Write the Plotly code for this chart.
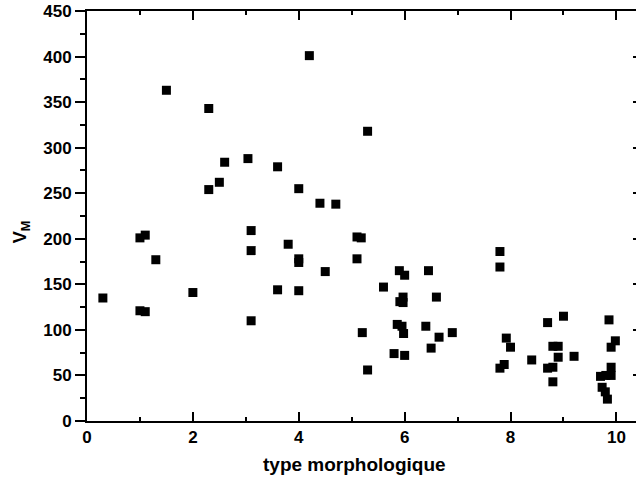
import plotly.graph_objects as go

# Data
type_morph = [0.3, 1.0, 1.1, 1.3, 1.0, 1.1, 1.5, 2.0, 2.3, 2.3, 2.5, 2.6, 3.04, 3.1, 3.1, 3.1,
              3.6, 3.6, 3.8, 4.0, 4.0, 4.0, 4.0, 4.2, 4.4, 4.5, 4.7, 5.1, 5.18, 5.1, 5.2, 5.3,
              5.3, 5.6, 5.9, 6.0, 6.45, 5.97, 5.91, 5.97, 6.6, 5.86, 5.95, 5.98, 6.4, 6.65, 6.9,
              6.5, 5.8, 6.0, 7.8, 7.8, 7.92, 8.0, 7.8, 7.88, 8.4, 8.7, 9.0, 8.8, 8.9, 8.9, 9.2,
              8.7, 8.8, 8.8, 9.86, 9.98, 9.9, 9.9, 9.9, 9.7, 9.8, 9.73, 9.79, 9.83]
v_m = [135, 201, 204, 177, 121, 120, 363, 141, 343, 254, 262, 284, 288, 209, 187, 110,
       279, 144, 194, 255, 178, 174, 143, 401, 239, 164, 238, 202, 201, 178, 97, 318,
       56, 147, 165, 160, 165, 136, 131, 130, 136, 106, 104, 96, 104, 92, 97,
       80, 74, 72, 186, 169, 91, 81, 58, 62, 67, 108, 115, 82, 82, 70, 71,
       58, 59, 43, 111, 88, 81, 59, 50, 49, 50, 37, 32, 24]

x_ticks = [0, 2, 4, 6, 8, 10]
y_ticks = [0, 50, 100, 150, 200, 250, 300, 350, 400, 450]

FONT = "Liberation Sans, Arial, sans-serif"

fig = go.Figure()
fig.add_trace(go.Scatter(
    x=type_morph, y=v_m, mode="markers",
    marker=dict(symbol="square", size=9, color="black", line=dict(width=0)),
    showlegend=False, hoverinfo="x+y"))
# empty trace to carry the right-hand tick axis
fig.add_trace(go.Scatter(x=[], y=[], yaxis="y2", showlegend=False))

fig.update_layout(
    template="none",
    width=636, height=484,
    margin=dict(l=87, r=0, t=11, b=63, autoexpand=False),
    paper_bgcolor="white", plot_bgcolor="white",
    font=dict(family=FONT, color="black"),
    xaxis=dict(
        range=[0, 10.37], tickvals=x_ticks, ticktext=[str(v) for v in x_ticks],
        ticks="inside", ticklen=9, tickwidth=2, tickcolor="black",
        minor=dict(ticks="inside", ticklen=4, tickwidth=2, dtick=1, tick0=0, tickcolor="black"),
        showline=True, linewidth=2, linecolor="black", mirror="ticks",
        showgrid=False, zeroline=False, automargin=False, ticklabeloverflow="allow",
        tickfont=dict(family=FONT, size=17, weight="bold", color="black"),
    ),
    yaxis=dict(
        range=[0, 450], tickvals=y_ticks, ticktext=[str(v) for v in y_ticks],
        ticks="outside", ticklen=10, tickwidth=2, tickcolor="black",
        minor=dict(ticks="outside", ticklen=5, tickwidth=2, dtick=25, tick0=0, tickcolor="black"),
        showline=True, linewidth=2, linecolor="black", mirror=False,
        showgrid=False, zeroline=False, automargin=False, ticklabeloverflow="allow",
        tickfont=dict(family=FONT, size=17, weight="bold", color="black"),
    ),
    yaxis2=dict(
        overlaying="y", side="right", range=[0, 450], tickvals=y_ticks,
        ticks="inside", ticklen=3, tickwidth=2, tickcolor="black",
        showticklabels=False, showline=False, showgrid=False, zeroline=False,
        automargin=False,
    ),
    annotations=[
        dict(text="type morphologique", xref="paper", yref="paper", x=0.488, y=-0.105,
             xanchor="center", yanchor="middle", showarrow=False,
             font=dict(family=FONT, size=19, weight="bold", color="black")),
        dict(text="V<sub>M</sub>", xref="paper", yref="paper", x=-0.118, y=0.461,
             xanchor="center", yanchor="middle", showarrow=False, textangle=-90,
             font=dict(family=FONT, size=18, weight="bold", color="black")),
    ],
)

# remove the browser's default 8px page margin so the figure sits at the window origin
fig.write_html("out.html", config={"displayModeBar": False},
               post_script="document.body.style.margin='0';")
